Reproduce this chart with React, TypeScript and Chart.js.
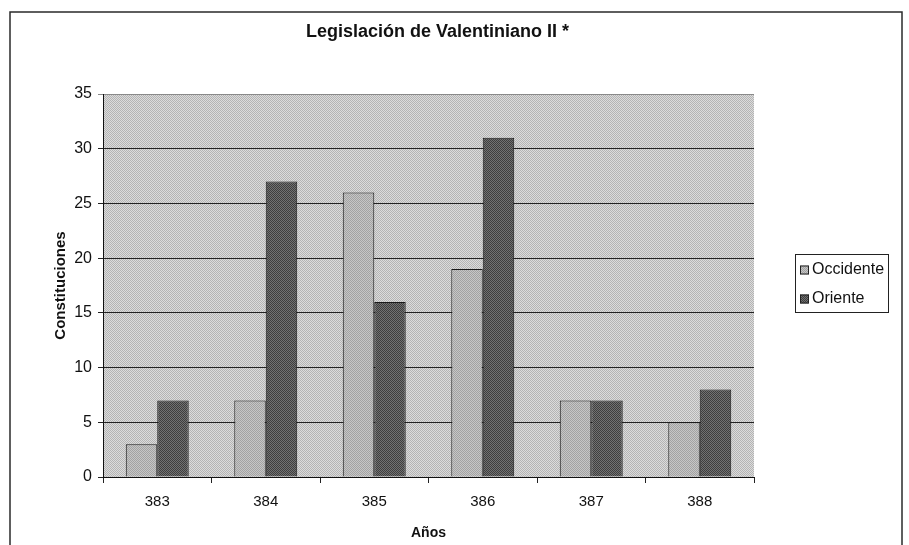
import React, { useEffect, useRef } from "react";
import { Chart, registerables } from "chart.js";

Chart.register(...registerables);

const chartTitle = "Legislación de Valentiniano II *";
const years = ["383", "384", "385", "386", "387", "388"];
const occidente = [3, 7, 26, 19, 7, 5];
const oriente = [7, 27, 16, 31, 7, 8];
const seriesNames = ["Occidente", "Oriente"];
const yTitle = "Constituciones";
const xTitle = "Años";

const NARROW = "'Liberation Sans Narrow', 'Arial Narrow', 'Liberation Sans', Arial, sans-serif";
const WIDE = "'Liberation Sans', Arial, sans-serif";

function makePattern(c1: string, c2: string): CanvasPattern | string {
  const p = document.createElement("canvas");
  p.width = 2;
  p.height = 2;
  const g = p.getContext("2d");
  if (!g) return c1;
  g.fillStyle = c1;
  g.fillRect(0, 0, 2, 2);
  g.fillStyle = c2;
  g.fillRect(0, 0, 1, 1);
  g.fillRect(1, 1, 1, 1);
  const ctx = document.createElement("canvas").getContext("2d");
  const pat = ctx ? ctx.createPattern(p, "repeat") : null;
  return pat || c1;
}

export default function App() {
  const ref = useRef<HTMLCanvasElement | null>(null);

  useEffect(() => {
    document.body.style.margin = "0";
    const canvas = ref.current;
    if (!canvas) return;

    const bgPattern = makePattern("#dcdcdc", "#b4b4b4");
    const occPattern = makePattern("#c6c6c6", "#a2a2a2");
    const oriPattern = makePattern("#727272", "#3e3e3e");
    const fills = [occPattern, oriPattern];

    const decor = {
      id: "decor",
      beforeDraw(chart: any) {
        const { ctx, chartArea: a } = chart;
        ctx.save();
        ctx.fillStyle = "#ffffff";
        ctx.fillRect(0, 0, chart.width, chart.height);
        ctx.fillStyle = bgPattern;
        ctx.fillRect(a.left, a.top, a.right - a.left, a.bottom - a.top);
        // outer frame
        ctx.strokeStyle = "#2a2a2a";
        ctx.lineWidth = 1.5;
        ctx.strokeRect(10, 12, 892, 560);
        ctx.restore();
      },
      afterDraw(chart: any) {
        const { ctx, chartArea: a } = chart;
        ctx.save();
        // title
        ctx.fillStyle = "#111";
        ctx.font = "bold 18px " + NARROW;
        ctx.textAlign = "center";
        ctx.textBaseline = "middle";
        ctx.fillText(chartTitle, (a.left + a.right) / 2 + 9, 32);
        // legend
        ctx.strokeStyle = "#222";
        ctx.lineWidth = 1;
        ctx.strokeRect(795.5, 254.5, 93, 58);
        const rows = [270, 299];
        chart.data.datasets.forEach((ds: any, i: number) => {
          const y = rows[i];
          ctx.fillStyle = fills[i];
          ctx.fillRect(800, y - 4.5, 9, 9);
          ctx.strokeStyle = "#222";
          ctx.strokeRect(800.5, y - 4, 8, 8);
          ctx.fillStyle = "#111";
          ctx.font = "16px " + NARROW;
          ctx.textAlign = "left";
          ctx.textBaseline = "middle";
          ctx.fillText(ds.label, 812, y);
        });
        ctx.restore();
      },
    };

    const chart = new Chart(canvas, {
      type: "bar",
      data: {
        labels: years,
        datasets: [
          {
            label: seriesNames[0],
            data: occidente,
            backgroundColor: occPattern as any,
            borderColor: "#1a1a1a",
            borderWidth: 1,
          },
          {
            label: seriesNames[1],
            data: oriente,
            backgroundColor: oriPattern as any,
            borderColor: "#1a1a1a",
            borderWidth: 1,
          },
        ],
      },
      options: {
        animation: false,
        responsive: false,
        maintainAspectRatio: false,
        layout: { padding: { left: 10, top: 94, right: 155, bottom: 0 } },
        datasets: { bar: { categoryPercentage: 0.58, barPercentage: 1 } },
        plugins: {
          legend: { display: false },
          title: { display: false },
          tooltip: { enabled: false },
        },
        scales: {
          x: {
            afterFit(scale: any) {
              scale.height = 68;
            },
            grid: {
              drawOnChartArea: false,
              drawTicks: true,
              tickLength: 6,
              color: "#222",
              offset: true,
            },
            border: { display: true, color: "#111", width: 1 },
            ticks: {
              color: "#111",
              padding: 10,
              font: { family: NARROW, size: 15 },
            },
            title: {
              display: true,
              text: xTitle,
              color: "#111",
              font: { family: NARROW, size: 14, weight: "bold" },
              padding: { top: 0, bottom: 3 },
            },
          },
          y: {
            min: 0,
            max: 35,
            afterFit(scale: any) {
              scale.width = 93;
            },
            ticks: {
              stepSize: 5,
              color: "#111",
              padding: 6,
              font: { family: NARROW, size: 16 },
            },
            grid: {
              color: (c: any) => (c.tick && c.tick.value === 35 ? "#8a8a8a" : "#222"),
              lineWidth: 1,
              tickLength: 5,
            },
            border: { display: true, color: "#111", width: 1 },
            title: {
              display: true,
              text: yTitle,
              color: "#111",
              font: { family: WIDE, size: 15, weight: "bold" },
              padding: { top: 42, bottom: 0 },
            },
          },
        },
      },
      plugins: [decor],
    });

    return () => chart.destroy();
  }, []);

  return (
    <div style={{ position: "absolute", left: 0, top: 0, width: 909, height: 545 }}>
      <canvas ref={ref} width={909} height={545} style={{ width: 909, height: 545, display: "block" }} />
    </div>
  );
}
